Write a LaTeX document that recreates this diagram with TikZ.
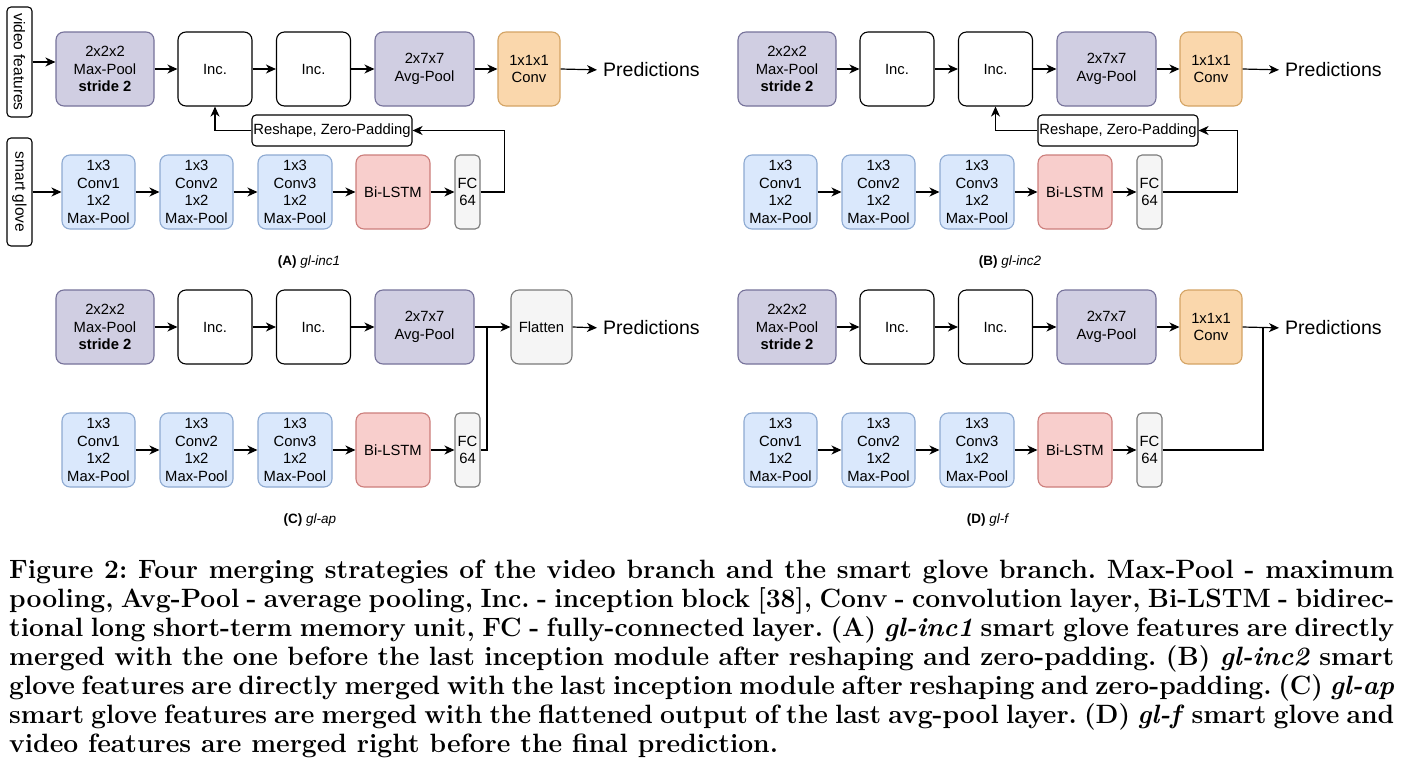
\documentclass[tikz,border=0pt]{standalone}
\usepackage{fontspec}
\newfontfamily\arial{Liberation Sans}
\usetikzlibrary{arrows.meta}
\definecolor{purpF}{HTML}{D0CEE2}
\definecolor{purpD}{HTML}{76729A}
\definecolor{blueF}{HTML}{DAE8FC}
\definecolor{blueD}{HTML}{8EAAD2}
\definecolor{redF}{HTML}{F8CECC}
\definecolor{redD}{HTML}{CC7E7B}
\definecolor{orF}{HTML}{FAD7AC}
\definecolor{orD}{HTML}{D4A464}
\definecolor{grF}{HTML}{F5F5F5}
\definecolor{grD}{HTML}{7A7A7A}
\tikzset{
  blk/.style={rounded corners=8pt, line width=1.1pt, align=center, inner sep=0pt,
    font=\arial\fontsize{14.8}{17.5}\selectfont},
  pbox/.style={blk, fill=purpF, draw=purpD},
  wbox/.style={blk, fill=white, draw=black},
  bbox/.style={blk, fill=blueF, draw=blueD},
  rbox/.style={blk, fill=redF, draw=redD},
  obox/.style={blk, fill=orF, draw=orD},
  gbox/.style={blk, fill=grF, draw=grD},
  sz/.style 2 args={minimum width=#1pt, minimum height=#2pt},
  arr/.style={-{Stealth[length=10pt,width=9pt,inset=3pt]}, line width=1.2pt},
  lnk/.style={line width=1.2pt},
  pred/.style={anchor=west, inner sep=0pt, font=\arial\fontsize{19.5}{22}\selectfont},
  lab/.style={inner sep=0pt, font=\arial\fontsize{13.5}{15}\selectfont},
}
\newcommand\toprow[1]{%
  \node[pbox, sz={98}{74}] (#1mp) at (105,69) {2x2x2\\Max-Pool\\\textbf{stride 2}};
  \node[wbox, sz={74}{74}] (#1ia) at (215,69) {Inc.};
  \node[wbox, sz={74}{74}] (#1ib) at (313.5,69) {Inc.};
  \node[pbox, sz={99}{74}] (#1ap) at (424.5,69) {2x7x7\\Avg-Pool};
  \draw[arr] (#1mp) -- (#1ia);
  \draw[arr] (#1ia) -- (#1ib);
  \draw[arr] (#1ib) -- (#1ap);
}
\newcommand\botrow[1]{%
  \node[bbox, sz={73}{74}] (#1ca) at (98.5,192) {1x3\\Conv1\\1x2\\Max-Pool};
  \node[bbox, sz={73}{74}] (#1cb) at (196.5,192) {1x3\\Conv2\\1x2\\Max-Pool};
  \node[bbox, sz={74}{74}] (#1cc) at (295,192) {1x3\\Conv3\\1x2\\Max-Pool};
  \node[rbox, sz={74}{74}] (#1ls) at (393,192) {Bi-LSTM};
  \node[gbox, rounded corners=5pt, sz={25}{74}] (#1fc) at (467.5,192) {FC\\64};
  \draw[arr] (#1ca) -- (#1cb);
  \draw[arr] (#1cb) -- (#1cc);
  \draw[arr] (#1cc) -- (#1ls);
  \draw[arr] (#1ls) -- (#1fc);
}
\begin{document}
\begin{tikzpicture}[x=1pt,y=-1pt]
\useasboundingbox[fill=white] (0,0) rectangle (1403,772);
% ---------- (A)
\node[wbox, rounded corners=4pt, rotate=-90, sz={110}{25}, font=\arial\fontsize{15.5}{17}\selectfont] (vf) at (19.5,62) {video features};
\node[wbox, rounded corners=4pt, rotate=-90, sz={108}{25}, font=\arial\fontsize{15.5}{17}\selectfont] (sg) at (19.5,192) {smart glove};
\toprow{A}
\botrow{A}
\draw[arr] (vf.north) -- (vf.north -| Amp.west);
\draw[arr] (sg.north) -- (sg.north -| Aca.west);
\node[obox, sz={62}{74}] (Acv) at (529,69) {1x1x1\\Conv};
\draw[arr] (Aap) -- (Acv);
\node[pred] (Apr) at (603,70) {Predictions};
\draw[arr, shorten >=6pt] (Acv.east) -- (Apr.west);
\node[wbox, rounded corners=4pt, sz={160}{31}] (Ars) at (332,130.5) {Reshape, Zero-Padding};
\draw[arr] (Ars.west) -| (Aia.south);
\draw[arr] (Afc.east) -- ++(24,0) |- (Ars.east);
\node[lab] (Alb) at (309,262) {\textbf{(A)} \textit{gl-inc1}};
% ---------- (B)
\begin{scope}[shift={(682,0)}]
\toprow{B}
\botrow{B}
\node[obox, sz={62}{74}] (Bcv) at (529,69) {1x1x1\\Conv};
\draw[arr] (Bap) -- (Bcv);
\node[pred] (Bpr) at (603,70) {Predictions};
\draw[arr, shorten >=6pt] (Bcv.east) -- (Bpr.west);
\node[wbox, rounded corners=4pt, sz={160}{31}] (Brs) at (436,130.5) {Reshape, Zero-Padding};
\draw[arr] (Brs.west) -| (Bib.south);
\draw[arr] (Bfc.east) -- ++(75,0) |- (Brs.east);
\node[lab] (Blb) at (328,262) {\textbf{(B)} \textit{gl-inc2}};
\end{scope}
% ---------- (C)
\begin{scope}[shift={(0,258)}]
\toprow{C}
\botrow{C}
\node[gbox, sz={61}{74}] (Cfl) at (541.5,69) {Flatten};
\coordinate (Cj) at (487,69);
\draw[arr] (Cap.east) -- (Cfl.west);
\draw[lnk] (Cfc.east) -| (Cj);
\node[pred] (Cpr) at (603,70) {Predictions};
\draw[arr, shorten >=6pt] (Cfl.east) -- (Cpr.west);
\node[lab] (Clb) at (310,262) {\textbf{(C)} \textit{gl-ap}};
\end{scope}
% ---------- (D)
\begin{scope}[shift={(682,258)}]
\toprow{D}
\botrow{D}
\node[obox, sz={62}{74}] (Dcv) at (529,69) {1x1x1\\Conv};
\draw[arr] (Dap) -- (Dcv);
\node[pred] (Dpr) at (603,70) {Predictions};
\coordinate (Dj) at (581,69);
\draw[arr, shorten >=6pt] (Dcv.east) -- (Dpr.west);
\draw[lnk] (Dfc.east) -| (Dj);
\node[lab] (Dlb) at (306,262) {\textbf{(D)} \textit{gl-f}};
\end{scope}
% ---------- caption
\node[anchor=north west, inner sep=0pt, text width=1385pt, align=justify,
  font=\bfseries\fontsize{26.5}{29}\selectfont\frenchspacing] (cap) at (9,560)
{Figure 2: Four merging strategies of the video branch and the smart glove branch. Max-Pool - maximum\linebreak
pooling, Avg-Pool - average pooling, Inc. - inception block [38], Conv - convolution layer, Bi-LSTM - bidirec-\linebreak
tional long short-term memory unit, FC - fully-connected layer. (A) \textit{gl-inc1} smart glove features are directly\linebreak
merged with the one before the last inception module after reshaping and zero-padding. (B) \textit{gl-inc2} smart\linebreak
glove features are directly merged with the last inception module after reshaping and zero-padding. (C) \textit{gl-ap}\linebreak
smart glove features are merged with the flattened output of the last avg-pool layer. (D) \textit{gl-f} smart glove and\linebreak
video features are merged right before the final prediction.};
\end{tikzpicture}
\end{document}
